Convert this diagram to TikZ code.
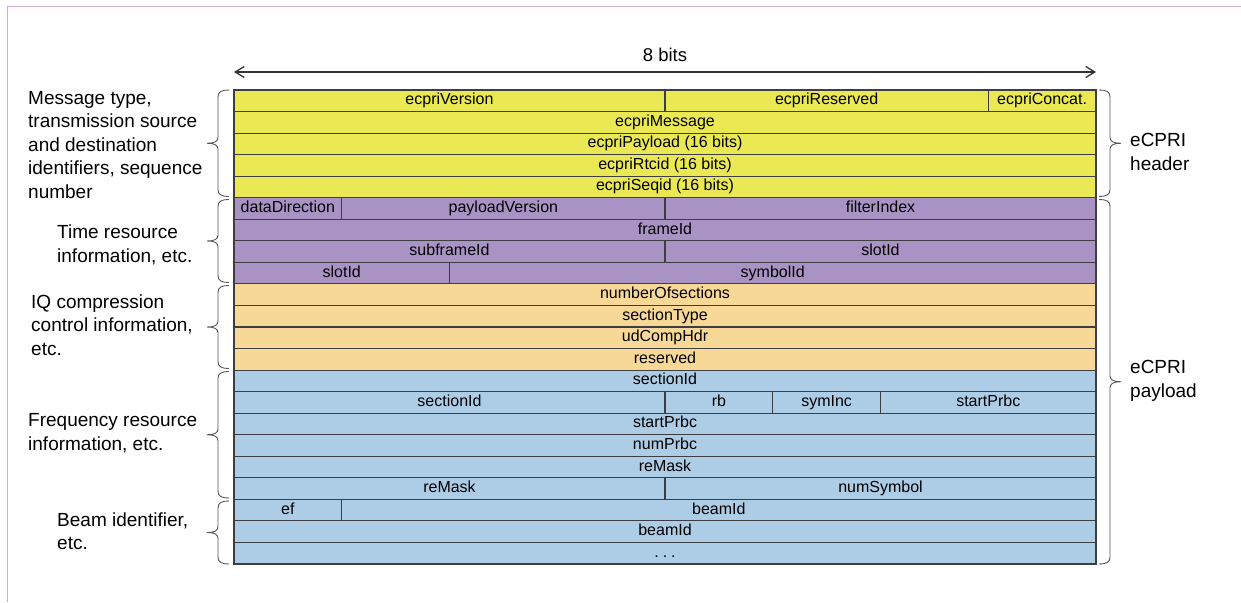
\documentclass[tikz,border=0pt]{standalone}
\usepackage{fontspec}
\setmainfont{Liberation Sans}
\usetikzlibrary{arrows.meta}

\definecolor{hdryellow}{RGB}{234,232,83}
\definecolor{timepurple}{RGB}{169,147,197}
\definecolor{comporange}{RGB}{247,216,151}
\definecolor{freqblue}{RGB}{173,204,230}
\definecolor{gridline}{RGB}{62,62,66}
\definecolor{framecol}{RGB}{204,176,204}
\definecolor{bracecol}{RGB}{85,85,85}

% one bit of the header is this wide, one row this tall
\newcommand\bitw{107.75}
\newcommand\rowh{21.545}
% \fieldcell{name}{colour}{first bit}{number of bits}{row}{text}
\newcommand\fieldcell[6]{%
  \node[cell,fill=#2,minimum width={#4*\bitw pt},anchor=north west]
    (#1) at ({234+#3*\bitw},{90+#5*\rowh}) {#6};}
% \sidebrace{x}{top}{bottom}{side: -1 left, 1 right}
\newcommand\sidebrace[4]{%
  \pgfmathsetmacro\bmid{(#2+#3)/2}%
  \draw[bracestroke] (#1,#2)
    .. controls ({#1+#4*7},#2) and ({#1+#4*11},{#2+1.5}) .. ({#1+#4*11},{#2+7})
    -- ({#1+#4*11},{\bmid-6})
    .. controls ({#1+#4*11},{\bmid-1.5}) and ({#1+#4*15},\bmid) .. ({#1+#4*22},\bmid)
    .. controls ({#1+#4*15},\bmid) and ({#1+#4*11},{\bmid+1.5}) .. ({#1+#4*11},{\bmid+6})
    -- ({#1+#4*11},{#3-7})
    .. controls ({#1+#4*11},{#3-1.5}) and ({#1+#4*7},#3) .. (#1,#3);}

\tikzset{
  cell/.style={draw=gridline,line width=1.1pt,minimum height=\rowh pt,
    inner sep=0pt,outer sep=0pt,font=\fontsize{16}{18}\selectfont,
    text height=11.5pt,text depth=3.5pt},
  sidelabel/.style={anchor=west,align=left,inner sep=0pt,
    font=\fontsize{19}{23.5}\selectfont},
  bracestroke/.style={draw=bracecol,line width=0.9pt},
  widtharrow/.style={draw=black!80,line width=1.3pt,
    {Straight Barb[length=9pt,width=11pt]}-{Straight Barb[length=9pt,width=11pt]}}
}

\begin{document}
\begin{tikzpicture}[x=1pt,y=-1pt]
\useasboundingbox (0,0) rectangle (1241,602);

% frame of the figure
\draw[framecol,line width=1pt] (7,602) -- (7,7) -- (1241,7);

% width indicator
\coordinate (wl) at (234,72);
\coordinate (wr) at (1096,72);
\draw[widtharrow] (wl) -- (wr);
\node[font=\fontsize{18.5}{22}\selectfont] (bits) at (665,55) {8 bits};

% eCPRI header
\fieldcell{ver}{hdryellow}{0}{4}{0}{ecpriVersion}
\fieldcell{rsv}{hdryellow}{4}{3}{0}{ecpriReserved}
\fieldcell{cat}{hdryellow}{7}{1}{0}{ecpriConcat.}
\fieldcell{msg}{hdryellow}{0}{8}{1}{ecpriMessage}
\fieldcell{pay}{hdryellow}{0}{8}{2}{ecpriPayload (16 bits)}
\fieldcell{rtc}{hdryellow}{0}{8}{3}{ecpriRtcid (16 bits)}
\fieldcell{seq}{hdryellow}{0}{8}{4}{ecpriSeqid (16 bits)}

% time resource fields
\fieldcell{dir}{timepurple}{0}{1}{5}{dataDirection}
\fieldcell{pv}{timepurple}{1}{3}{5}{payloadVersion}
\fieldcell{fi}{timepurple}{4}{4}{5}{filterIndex}
\fieldcell{fr}{timepurple}{0}{8}{6}{frameId}
\fieldcell{sf}{timepurple}{0}{4}{7}{subframeId}
\fieldcell{slA}{timepurple}{4}{4}{7}{slotId}
\fieldcell{slB}{timepurple}{0}{2}{8}{slotId}
\fieldcell{sym}{timepurple}{2}{6}{8}{symbolId}

% IQ compression fields
\fieldcell{nos}{comporange}{0}{8}{9}{numberOfsections}
\fieldcell{st}{comporange}{0}{8}{10}{sectionType}
\fieldcell{udc}{comporange}{0}{8}{11}{udCompHdr}
\fieldcell{res}{comporange}{0}{8}{12}{reserved}

% frequency resource and beam fields
\fieldcell{sidA}{freqblue}{0}{8}{13}{sectionId}
\fieldcell{sidB}{freqblue}{0}{4}{14}{sectionId}
\fieldcell{rb}{freqblue}{4}{1}{14}{rb}
\fieldcell{si}{freqblue}{5}{1}{14}{symInc}
\fieldcell{spA}{freqblue}{6}{2}{14}{startPrbc}
\fieldcell{spB}{freqblue}{0}{8}{15}{startPrbc}
\fieldcell{np}{freqblue}{0}{8}{16}{numPrbc}
\fieldcell{rmA}{freqblue}{0}{8}{17}{reMask}
\fieldcell{rmB}{freqblue}{0}{4}{18}{reMask}
\fieldcell{ns}{freqblue}{4}{4}{18}{numSymbol}
\fieldcell{ef}{freqblue}{0}{1}{19}{ef}
\fieldcell{bA}{freqblue}{1}{7}{19}{beamId}
\fieldcell{bB}{freqblue}{0}{8}{20}{beamId}
\fieldcell{more}{freqblue}{0}{8}{21}{.\hspace{4pt}.\hspace{4pt}.}

% braces on the left, one per group of rows
\sidebrace{229}{90}{196.5}{-1}
\sidebrace{229}{199.5}{282.5}{-1}
\sidebrace{229}{285.5}{368.5}{-1}
\sidebrace{229}{371.5}{498}{-1}
\sidebrace{229}{501}{564}{-1}

% braces on the right: header and payload
\sidebrace{1099}{90}{196.5}{1}
\sidebrace{1099}{199.5}{564}{1}

% descriptions of the groups
\node[sidelabel] (gmsg) at (28,145) {Message type,\\transmission source\\and destination\\identifiers, sequence\\number};
\node[sidelabel] (gtime) at (57,245) {Time resource\\information, etc.};
\node[sidelabel] (gcomp) at (31,325) {IQ compression\\control information,\\etc.};
\node[sidelabel] (gfreq) at (28,433) {Frequency resource\\information, etc.};
\node[sidelabel] (gbeam) at (57,531) {Beam identifier,\\etc.};

\node[sidelabel] (hdr) at (1130,152) {eCPRI\\header};
\node[sidelabel] (pld) at (1130,381) {eCPRI\\payload};
\end{tikzpicture}
\end{document}
